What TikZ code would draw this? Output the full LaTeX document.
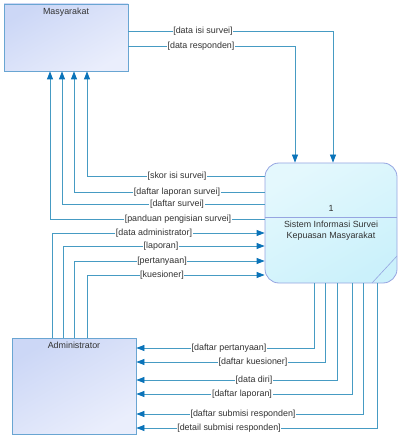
\documentclass[tikz,border=0pt]{standalone}
\usepackage{fontspec}
\setmainfont{Liberation Sans}
\usetikzlibrary{arrows.meta}
\definecolor{lineC}{RGB}{70,155,195}
\definecolor{headC}{RGB}{10,115,185}
\definecolor{entBorder}{RGB}{105,165,210}
\definecolor{entA}{RGB}{204,215,246}
\definecolor{entB}{RGB}{234,238,252}
\definecolor{procBorder}{RGB}{150,165,225}
\definecolor{procA}{RGB}{228,248,253}
\definecolor{procB}{RGB}{203,241,251}
\definecolor{txtC}{RGB}{50,50,50}
\tikzset{
  entity/.style={draw=entBorder, line width=0.8pt, top color=entA, bottom color=entB, shading angle=30, inner sep=0pt},
  proc/.style={draw=procBorder, line width=0.8pt, rounded corners=14pt, top color=procA, bottom color=procB, shading angle=30, inner sep=0pt},
  flow/.style={draw=lineC, line width=0.8pt},
  arr/.style={flow, -{Triangle[length=8pt,width=6pt,color=headC]}},
  lbl/.style={fill=white, inner sep=0.6pt, text=txtC, font=\fontsize{8.9}{10}\selectfont},
  ttl/.style={text=txtC, font=\fontsize{8.9}{11}\selectfont, inner sep=0pt, align=center}
}
\begin{document}
\begin{tikzpicture}[x=1pt,y=-1pt]
\useasboundingbox (0,0) rectangle (402,438);
% nodes
\node[entity, minimum width=124pt, minimum height=67pt] (mas) at (66,37.5) {};
\node[ttl, anchor=north] (masl) at (66,8) {Masyarakat};
\node[entity, minimum width=124pt, minimum height=96pt] (adm) at (74,386) {};
\node[ttl, anchor=north] (adml) at (74,342) {Administrator};
\node[proc, minimum width=132pt, minimum height=120pt] (proc) at (331,223) {};
\draw[draw=procBorder, line width=0.8pt] (proc.west |- 0,217) -- (proc.east |- 0,217);
\draw[draw=procBorder, line width=0.6pt] (372,283) -- (397,256);
\node[ttl] (pnum) at (331,208.5) {1};
\node[ttl, anchor=north] (pname) at (331,221) {Sistem Informasi Survei\\Kepuasan Masyarakat};
% Masyarakat -> process
\draw[arr] (mas.east |- 0,31.7) -- (333,31.7) -- (proc.north -| 333,0);
\draw[arr] (mas.east |- 0,46) -- (295,46) -- (proc.north -| 295,0);
% process -> Masyarakat
\draw[arr] (proc.west |- 0,176) -- (87,176) -- (mas.south -| 87,0);
\draw[arr] (proc.west |- 0,192) -- (74,192) -- (mas.south -| 74,0);
\draw[arr] (proc.west |- 0,204) -- (62,204) -- (mas.south -| 62,0);
\draw[arr] (proc.west |- 0,219) -- (50,219) -- (mas.south -| 50,0);
% Administrator -> process
\draw[arr] (adm.north -| 52,0) -- (52,233) -- (proc.west |- 0,233);
\draw[arr] (adm.north -| 63,0) -- (63,246) -- (proc.west |- 0,246);
\draw[arr] (adm.north -| 74,0) -- (74,261) -- (proc.west |- 0,261);
\draw[arr] (adm.north -| 87,0) -- (87,275) -- (proc.west |- 0,275);
% process -> Administrator
\draw[arr] (proc.south -| 314,0) -- (314,348) -- (adm.east |- 0,348);
\draw[arr] (proc.south -| 325,0) -- (325,362) -- (adm.east |- 0,362);
\draw[arr] (proc.south -| 337,0) -- (337,380) -- (adm.east |- 0,380);
\draw[arr] (proc.south -| 352,0) -- (352,394) -- (adm.east |- 0,394);
\draw[arr] (proc.south -| 363,0) -- (363,414) -- (adm.east |- 0,414);
\draw[arr] (proc.south -| 377,0) -- (377,428) -- (adm.east |- 0,428);
% labels
\node[lbl] (l1) at (203,31.7) {[data isi survei]};
\node[lbl] (l2) at (201,46) {[data responden]};
\node[lbl] (l3) at (177,176) {[skor isi survei]};
\node[lbl] (l4) at (177,192) {[daftar laporan survei]};
\node[lbl] (l5) at (177,204) {[daftar survei]};
\node[lbl] (l6) at (178,219) {[panduan pengisian survei]};
\node[lbl] (l7) at (154,233) {[data administrator]};
\node[lbl] (l8) at (161,246) {[laporan]};
\node[lbl] (l9) at (162,261) {[pertanyaan]};
\node[lbl] (l10) at (162,275) {[kuesioner]};
\node[lbl] (l11) at (229,348) {[daftar pertanyaan]};
\node[lbl] (l12) at (253,362) {[daftar kuesioner]};
\node[lbl] (l13) at (254,380) {[data diri]};
\node[lbl] (l14) at (242,394) {[daftar laporan]};
\node[lbl] (l15) at (243,414) {[daftar submisi responden]};
\node[lbl] (l16) at (229,428) {[detail submisi responden]};
\end{tikzpicture}
\end{document}
